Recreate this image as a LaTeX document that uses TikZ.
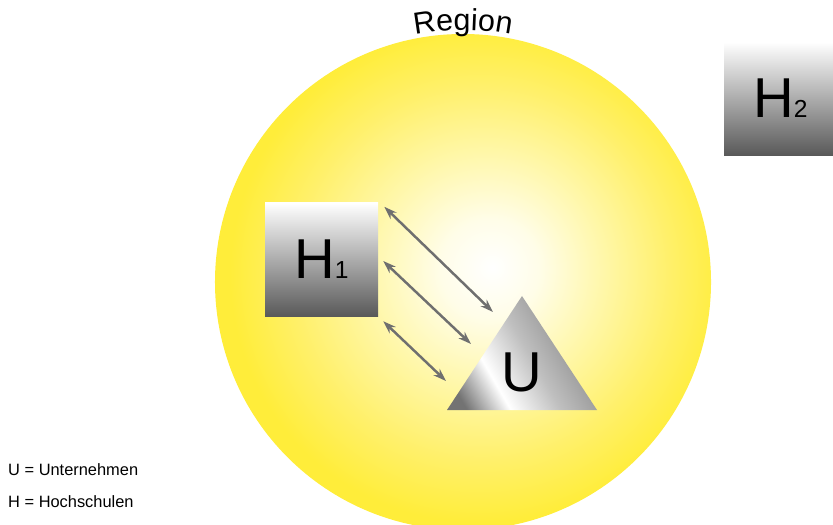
\documentclass[tikz,border=0pt]{standalone}
\usepackage{fontspec}
\setmainfont{Liberation Sans}
\usetikzlibrary{arrows.meta,decorations.text}

\definecolor{regionyellow}{HTML}{FFED3A}
\definecolor{regionwhite}{HTML}{FFFDE8}
\definecolor{regionpale}{HTML}{FFF7A8}
\definecolor{regionmid}{HTML}{FFF06A}
\definecolor{arrowgray}{HTML}{6F6F6F}

\pgfdeclareradialshading{regionglow}{\pgfpoint{3bp}{1.5bp}}{%
  color(0bp)=(white); color(5bp)=(regionwhite); color(12bp)=(regionpale);
  color(19bp)=(regionmid); color(25bp)=(regionyellow); color(50bp)=(regionyellow)}
\pgfdeclarehorizontalshading{metal}{100bp}{%
  color(0bp)=(black!55); color(22bp)=(black!55); color(36bp)=(white);
  color(52bp)=(black!25); color(68bp)=(black!42); color(82bp)=(black!55);
  color(100bp)=(black!55)}

\begin{document}
\begin{tikzpicture}[
    x=0.03cm, y=0.03cm,
    hbox/.style={top color=white,bottom color=black!65,minimum width=3.39cm,
      minimum height=3.39cm,inner sep=0pt,font=\fontsize{48}{48}\selectfont},
    link/.style={<->,draw=arrowgray,line width=2.1pt},
    legend/.style={anchor=base west,inner sep=0pt,font=\fontsize{14}{16}\selectfont},
    >={Stealth[length=11pt,width=7.5pt]}]
  \clip (0,0) rectangle (833,524);
  % region
  \coordinate (centre) at (463,242);
  \path[shading=regionglow] (centre) circle[radius=7.44cm];
  \path[decorate,decoration={text along path,text align=center,
      text={|\fontsize{26}{26}\selectfont|Region}}]
    ([shift={(115:7.56cm)}]centre) arc[start angle=115,end angle=65,radius=7.56cm];
  % universities
  \node[hbox] (h1) at (321.5,264.5) {H{\fontsize{21}{21}\selectfont 1}};
  \node[hbox] (h2) at (780.5,425.5) {H{\fontsize{21}{21}\selectfont 2}};
  % company
  \coordinate (uapex) at (522,228);
  \coordinate (uleft) at (447,114);
  \coordinate (uright) at (597,114);
  \path[shading=metal,shading angle=30] (uapex) -- (uleft) -- (uright) -- cycle;
  \node[font=\fontsize{48}{48}\selectfont] (u) at (522,152) {U};
  % exchange
  \draw[link] ([shift={(6,-4)}]h1.north east) -- ([shift={(-29,60)}]u.center);
  \draw[link] ([shift={(5,-1.5)}]h1.east) -- ([shift={(-51,28)}]u.center);
  \draw[link] ([shift={(5,-5)}]h1.south east) -- ([shift={(-76,-9)}]u.center);
  % legend
  \node[legend] (lu) at (8,49) {U = Unternehmen};
  \node[legend] (lh) at (8,17) {H = Hochschulen};
\end{tikzpicture}
\end{document}
